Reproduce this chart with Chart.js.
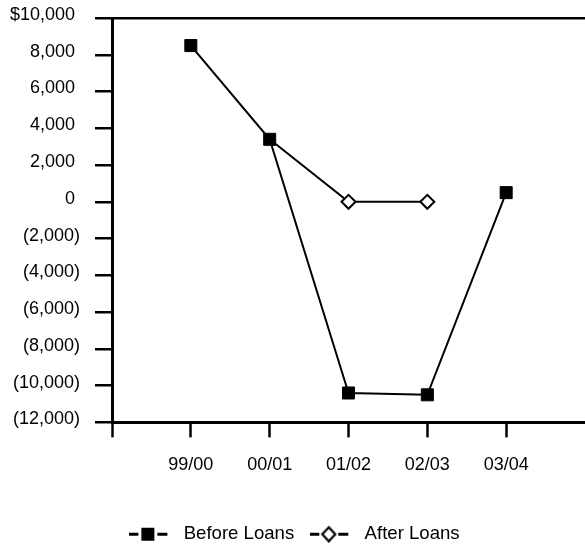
<!DOCTYPE html>
<html>
<head>
<meta charset="utf-8">
<script src="https://cdn.jsdelivr.net/npm/chart.js@4/dist/chart.umd.min.js"></script>
<style>
  html, body { margin: 0; padding: 0; background: #fff; }
  #wrap { width: 585px; height: 546px; }
</style>
</head>
<body>
<div id="wrap"><canvas id="c" width="585" height="546"></canvas></div>
<script>
// Fiscal years and net results ($)
const periods = ['99/00', '00/01', '01/02', '02/03', '03/04'];
const beforeLoans = [8500, 3400, -10400, -10500, 500];
const afterLoans = [null, 3400, 0, 0, null];
const yMin = -12000;
const yMax = 10000;
const yStep = 2000;

const FONT = "'Liberation Sans', Arial, Helvetica, sans-serif";
const INK = '#000';

// one empty slot on each side so the axis starts a full step before the first year
const labels = ['', ...periods, ''];
const pad = arr => [null, ...arr, null];

function fmt(v) {
  const s = Math.abs(v).toLocaleString('en-US');
  if (v < 0) return '(' + s + ')';
  if (v === yMax) return '$' + s + ' ';
  return s + ' ';
}

// legend swatches: dash, marker, dash
function swatch(kind) {
  const c = document.createElement('canvas');
  c.width = 45; c.height = 18;
  const g = c.getContext('2d');
  g.fillStyle = INK;
  g.fillRect(0, 8, 9, 3);
  g.fillRect(28, 8, 10, 3);
  if (kind === 'square') {
    g.fillRect(12, 3, 13, 13);
  } else {
    g.strokeStyle = INK;
    g.lineWidth = 2.2;
    g.fillStyle = '#fff';
    g.beginPath();
    g.moveTo(18.5, 2.5); g.lineTo(25, 9.5); g.lineTo(18.5, 16.5); g.lineTo(12, 9.5); g.closePath();
    g.fill(); g.stroke();
  }
  return c;
}
const swatches = [swatch('square'), swatch('diamond')];

new Chart(document.getElementById('c'), {
  type: 'line',
  data: {
    labels: labels,
    datasets: [
      {
        label: 'Before Loans',
        data: pad(beforeLoans),
        borderColor: INK,
        borderWidth: 2,
        pointStyle: 'rect',
        pointRadius: 8.5,
        pointBackgroundColor: INK,
        pointBorderColor: INK,
        pointBorderWidth: 1,
        tension: 0,
        spanGaps: false
      },
      {
        label: 'After Loans',
        data: pad(afterLoans),
        borderColor: INK,
        borderWidth: 2,
        pointStyle: 'rectRot',
        // the series starts from the Before Loans point, so no marker there
        pointRadius: ctx => {
          const i = ctx.dataIndex - 1;
          return afterLoans[i] !== null && afterLoans[i] === beforeLoans[i] ? 0 : 7;
        },
        pointBackgroundColor: '#fff',
        pointBorderColor: INK,
        pointBorderWidth: 2,
        tension: 0,
        spanGaps: false
      }
    ]
  },
  options: {
    responsive: false,
    animation: false,
    events: [],
    layout: { autoPadding: false, padding: { top: 18, right: -4, bottom: -7, left: 0 } },
    scales: {
      x: {
        type: 'category',
        offset: false,
        border: { display: true, color: INK, width: 3 },
        grid: {
          drawOnChartArea: false,
          drawTicks: true,
          tickLength: 15,
          tickWidth: 2.5,
          tickColor: ctx => (ctx.index === labels.length - 1 ? 'rgba(0,0,0,0)' : INK)
        },
        ticks: {
          color: INK,
          font: { family: FONT, size: 18 },
          padding: 17,
          maxRotation: 0,
          autoSkip: false
        },
        afterFit: s => {
          s.height = 86;
          s.paddingLeft = 0;
          s.paddingRight = -4;
        }
      },
      y: {
        min: yMin,
        max: yMax,
        border: { display: true, color: INK, width: 3 },
        grid: {
          color: ctx => (ctx.tick && ctx.tick.value === yMax ? INK : 'rgba(0,0,0,0)'),
          lineWidth: 2.5,
          tickLength: 17,
          tickWidth: 2.5,
          tickColor: INK
        },
        ticks: {
          stepSize: yStep,
          color: INK,
          font: { family: FONT, size: 18 },
          padding: 15,
          labelOffset: -3,
          callback: v => fmt(v)
        },
        afterFit: s => {
          s.width = 112;
          s.paddingTop = 0;
          s.paddingBottom = 0;
        }
      }
    },
    plugins: {
      tooltip: { enabled: false },
      legend: {
        position: 'bottom',
        labels: {
          color: INK,
          font: { family: FONT, size: 18.6 },
          usePointStyle: true,
          pointStyleWidth: 45,
          padding: 16,
          generateLabels: chart => chart.data.datasets.map((ds, i) => ({
            text: ds.label,
            pointStyle: swatches[i],
            fillStyle: INK,
            strokeStyle: INK,
            lineWidth: 0,
            hidden: false,
            datasetIndex: i,
            fontColor: INK
          }))
        }
      }
    }
  }
});
</script>
</body>
</html>
